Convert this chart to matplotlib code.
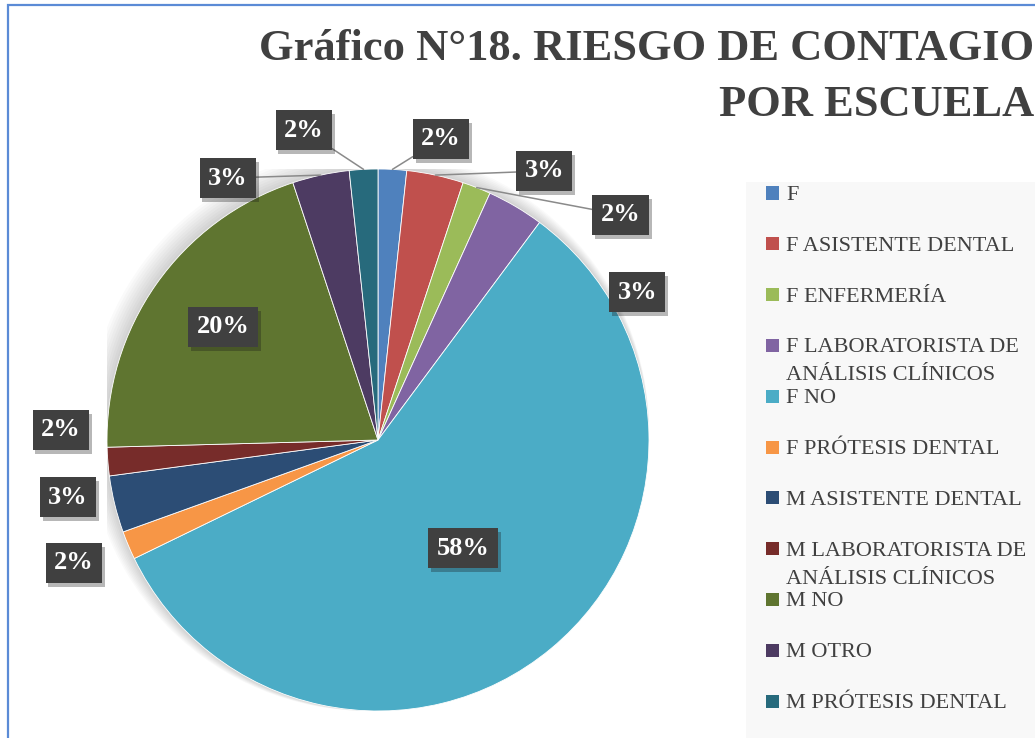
import numpy as np
import matplotlib
matplotlib.use('Agg')
import matplotlib.pyplot as plt
import matplotlib.patheffects as pe
from matplotlib.patches import Rectangle, Circle

# data (counts give the shown percentages, total 59)
categories = ["F", "F ASISTENTE DENTAL", "F ENFERMERÍA",
              "F LABORATORISTA DE\nANÁLISIS CLÍNICOS", "F NO",
              "F PRÓTESIS DENTAL", "M ASISTENTE DENTAL",
              "M LABORATORISTA DE\nANÁLISIS CLÍNICOS", "M NO", "M OTRO",
              "M PRÓTESIS DENTAL"]
counts = [1, 2, 1, 2, 34, 1, 2, 1, 12, 2, 1]
colors = ["#4F81BD", "#C0504D", "#9BBB59", "#8064A2", "#4BACC6", "#F79646",
          "#2C4D75", "#772C2A", "#5F7530", "#4D3B62", "#276A7C"]
title_lines = ["Gráfico N°18. RIESGO DE CONTAGIO", "POR ESCUELA"]

# label placement: distance from centre (radius=1) and angle shift from slice middle
label_r = [1.135, 1.167, 1.222, 1.101, 0.508, 1.210, 1.163, 1.171, 0.708, 1.114, 1.176]
label_shift = [-8.8, -19.5, -25.8, -29.8, -1.5, -0.9, -3.3, -6.4, -1.0, 17.6, 10.4]
leader = [True, True, True, False, False, False, False, False, False, True, True]

plt.rcParams['font.family'] = ['Liberation Serif', 'DejaVu Serif']
W, H = 1035, 738
fig = plt.figure(figsize=(W / 100, H / 100), dpi=100)
fig.patch.set_facecolor('white')

# outer blue frame (cut by the image edge) and legend panel
fig.add_artist(Rectangle((8 / W, -0.1), 1.2, 1.1 - 5 / H, transform=fig.transFigure,
                         fill=False, edgecolor='#5b8bd6', lw=1.6))
fig.add_artist(Rectangle((746 / W, -0.1), 1.0, (H - 182) / H + 0.1, transform=fig.transFigure,
                         facecolor='#f8f8f8', edgecolor='none'))

# title, right aligned, one text per line
for j, line in enumerate(title_lines):
    fig.text(1034 / W, 1 - (60 + 56 * j) / H, line, ha='right', va='baseline',
             fontsize=32, fontweight='bold', color='#404040')

ax = fig.add_axes([107 / W, 27 / H, 542 / W, 542 / H])

# soft shadow around the pie
for k in range(10):
    ax.add_patch(Circle((-0.004 * k, 0.004 * k), 1 + 0.004 * k, facecolor='#000000',
                        alpha=0.018, edgecolor='none', zorder=0))

wedges, _ = ax.pie(counts, colors=colors, startangle=90, counterclock=False,
                   wedgeprops=dict(edgecolor='white', linewidth=0.6))
ax.set_xlim(-1, 1)
ax.set_ylim(-1, 1)
ax.set_aspect('equal')
ax.axis('off')

total = sum(counts)
cum = np.cumsum(counts)
mids = 90 - 360 * (cum - np.array(counts) / 2) / total

box = dict(boxstyle='square,pad=0.32', facecolor='#404040', edgecolor='none')
for i, c in enumerate(counts):
    txt = f"{round(100 * c / total)}%"
    a = np.radians(mids[i])
    b = np.radians(mids[i] + label_shift[i])
    pos = (label_r[i] * np.cos(b), label_r[i] * np.sin(b))
    if leader[i]:
        t = ax.annotate(txt, xy=(np.cos(a), np.sin(a)), xytext=pos, ha='center', va='center',
                        fontsize=19, fontweight='bold', color='white', bbox=box,
                        arrowprops=dict(arrowstyle='-', color='#8a8a8a', lw=1.1,
                                        shrinkA=0, shrinkB=0))
    else:
        t = ax.text(pos[0], pos[1], txt, ha='center', va='center', fontsize=19,
                    fontweight='bold', color='white', bbox=box)
    t.get_bbox_patch().set_path_effects([pe.SimplePatchShadow(offset=(2, -3), alpha=0.3),
                                         pe.Normal()])

# legend drawn as a column of entries
for i, lab in enumerate(categories):
    yc = 193 + i * 50.8
    fig.add_artist(Rectangle((766 / W, 1 - (yc + 6.5) / H), 13 / W, 13 / H,
                             transform=fig.transFigure, facecolor=colors[i], edgecolor='none'))
    for j, line in enumerate(lab.split('\n')):
        fig.text(786 / W, 1 - (yc + 28 * j) / H, line, ha='left', va='center_baseline',
                 fontsize=16, color='#404040')

fig.savefig('out.png', dpi=100)
